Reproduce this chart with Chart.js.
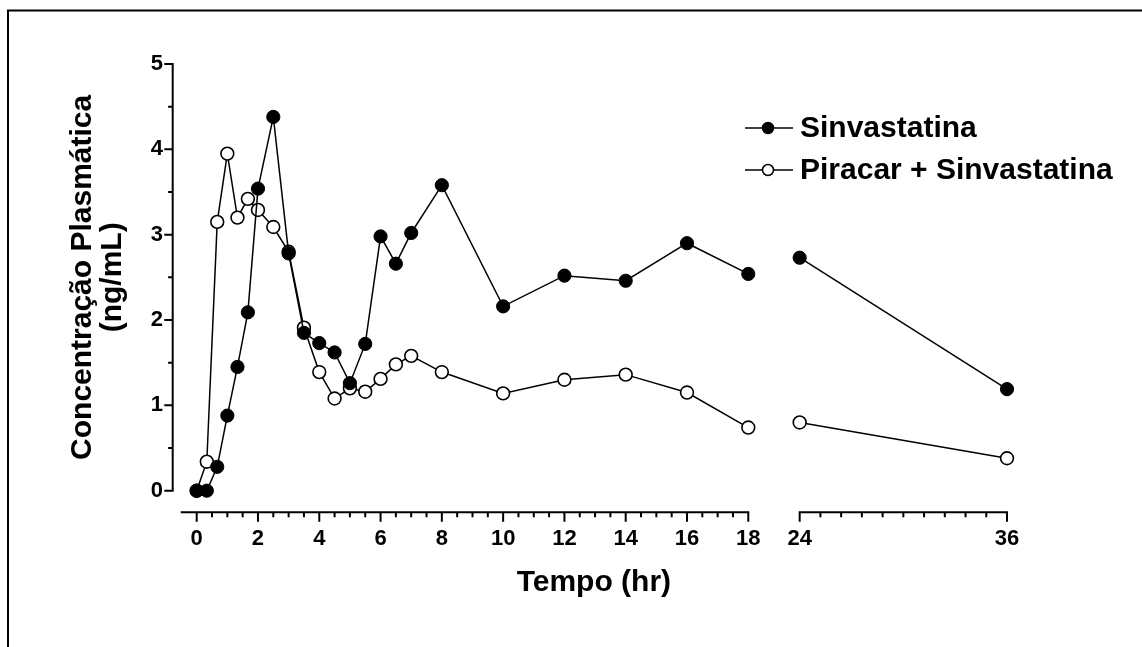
<!DOCTYPE html>
<html>
<head>
<meta charset="utf-8">
<title>Concentração Plasmática</title>
<script src="https://cdn.jsdelivr.net/npm/chart.js@4.4.1/dist/chart.umd.min.js"></script>
<style>
  html, body { margin: 0; padding: 0; background: #fff; }
  #wrap { width: 1142px; height: 647px; }
</style>
</head>
<body>
<div id="wrap"><canvas id="c" width="1142" height="647"></canvas></div>
<script>
// Sampling times (hr) and plasma concentrations (ng/mL)
const hours = [0, 0.33, 0.67, 1, 1.33, 1.67, 2, 2.5, 3, 3.5, 4, 4.5, 5, 5.5, 6, 6.5, 7, 8, 10, 12, 14, 16, 18, 24, 36];
const sinvastatina = [0, 0, 0.28, 0.88, 1.45, 2.09, 3.54, 4.38, 2.78, 1.85, 1.73, 1.62, 1.26, 1.72, 2.98, 2.66, 3.02, 3.58, 2.16, 2.52, 2.46, 2.90, 2.54, 2.73, 1.19];
const piracarSinvastatina = [0, 0.34, 3.15, 3.95, 3.20, 3.42, 3.29, 3.09, 2.80, 1.91, 1.39, 1.08, 1.20, 1.16, 1.31, 1.48, 1.58, 1.39, 1.14, 1.30, 1.36, 1.15, 0.74, 0.80, 0.38];
const seriesNames = ['Sinvastatina', 'Piracar + Sinvastatina'];
const xTickLabels = [0, 2, 4, 6, 8, 10, 12, 14, 16, 18, 24, 36];
const yTickLabels = [0, 1, 2, 3, 4, 5];

// Broken time axis: 0–18 h at full scale, then 24–36 h compressed after a gap
const BREAK_START = 18, BREAK_END = 24, LAST_HOUR = 36;
const BREAK_GAP = 1.677;
const LATE_SCALE = 0.5638;
function axisPos(t) {
  return t <= BREAK_START ? t : BREAK_START + BREAK_GAP + (t - BREAK_END) * LATE_SCALE;
}

const FONT = "'Liberation Sans', Arial, Helvetica, sans-serif";
Chart.defaults.font.family = FONT;
Chart.defaults.color = '#000';

const lineBreakSegment = {
  borderColor: ctx =>
    (hours[ctx.p0DataIndex] <= BREAK_START && hours[ctx.p1DataIndex] >= BREAK_END) ? 'rgba(0,0,0,0)' : undefined
};

// Page frame, offset axes with minor ticks, and the line-and-marker legend
const prismStyle = {
  id: 'prismStyle',
  beforeDraw(chart) {
    const ctx = chart.ctx;
    ctx.save();
    ctx.fillStyle = '#fff';
    ctx.fillRect(0, 0, chart.width, chart.height);
    ctx.strokeStyle = '#000';
    ctx.lineWidth = 2;
    ctx.beginPath();
    ctx.moveTo(8, chart.height);
    ctx.lineTo(8, 10.5);
    ctx.lineTo(chart.width, 10.5);
    ctx.stroke();
    ctx.restore();
  },
  afterDraw(chart) {
    const ctx = chart.ctx;
    const xs = chart.scales.x, ys = chart.scales.y;
    const area = chart.chartArea;
    const axisX = area.left - 8;
    const axisY = area.bottom + 21.6;
    ctx.save();
    ctx.strokeStyle = '#000';
    ctx.lineWidth = 2;
    ctx.lineCap = 'butt';

    // y axis
    const y0 = ys.getPixelForValue(yTickLabels[0]);
    const y1 = ys.getPixelForValue(yTickLabels[yTickLabels.length - 1]);
    ctx.beginPath();
    ctx.moveTo(axisX, y0 + 1);
    ctx.lineTo(axisX, y1 - 1);
    for (let v = yTickLabels[0]; v <= yTickLabels[yTickLabels.length - 1] + 1e-9; v += 0.5) {
      const py = ys.getPixelForValue(v);
      const major = Math.abs(v - Math.round(v)) < 1e-9;
      ctx.moveTo(axisX - (major ? 8.4 : 4.6), py);
      ctx.lineTo(axisX + 1, py);
    }
    ctx.stroke();

    // x axis, first segment 0–18 h
    ctx.beginPath();
    ctx.moveTo(area.left, axisY);
    ctx.lineTo(xs.getPixelForValue(axisPos(BREAK_START)) + 1, axisY);
    for (let t = 0; t <= BREAK_START + 1e-9; t += 0.5) {
      const px = xs.getPixelForValue(axisPos(t));
      const major = Math.abs(t / 2 - Math.round(t / 2)) < 1e-9;
      ctx.moveTo(px, axisY - 1);
      ctx.lineTo(px, axisY + (major ? 9.4 : 5));
    }
    ctx.stroke();

    // x axis, second segment 24–36 h
    ctx.beginPath();
    const a = xs.getPixelForValue(axisPos(BREAK_END));
    const b = xs.getPixelForValue(axisPos(LAST_HOUR));
    ctx.moveTo(a - 1, axisY);
    ctx.lineTo(b + 1, axisY);
    for (let k = 0; k <= 10; k++) {
      const t = BREAK_END + k * (LAST_HOUR - BREAK_END) / 10;
      const px = xs.getPixelForValue(axisPos(t));
      const major = (k === 0 || k === 10);
      ctx.moveTo(px, axisY - 1);
      ctx.lineTo(px, axisY + (major ? 9.4 : 5));
    }
    ctx.stroke();

    // legend
    ctx.font = 'bold 30px ' + FONT;
    ctx.textBaseline = 'middle';
    ctx.textAlign = 'left';
    ctx.fillStyle = '#000';
    const rows = [128, 170];
    chart.data.datasets.forEach((ds, i) => {
      const ry = rows[i];
      ctx.lineWidth = 1.5;
      ctx.beginPath();
      ctx.moveTo(745, ry);
      ctx.lineTo(793, ry);
      ctx.stroke();
      ctx.beginPath();
      ctx.arc(768, ry, 5.5, 0, Math.PI * 2);
      ctx.fillStyle = ds.pointBackgroundColor;
      ctx.fill();
      ctx.stroke();
      ctx.fillStyle = '#000';
      ctx.fillText(ds.label, 800, ry + 1);
    });
    ctx.restore();
  }
};

new Chart(document.getElementById('c'), {
  type: 'line',
  data: {
    datasets: [
      {
        label: seriesNames[0],
        data: hours.map((t, i) => ({ x: axisPos(t), y: sinvastatina[i] })),
        borderColor: '#000',
        borderWidth: 1.5,
        pointRadius: 6.6,
        pointBackgroundColor: '#000',
        pointBorderColor: '#000',
        pointBorderWidth: 1,
        segment: lineBreakSegment,
        clip: false,
        tension: 0
      },
      {
        label: seriesNames[1],
        data: hours.map((t, i) => ({ x: axisPos(t), y: piracarSinvastatina[i] })),
        borderColor: '#000',
        borderWidth: 1.5,
        pointRadius: 6.4,
        pointBackgroundColor: '#fff',
        pointBorderColor: '#000',
        pointBorderWidth: 1.6,
        segment: lineBreakSegment,
        clip: false,
        tension: 0
      }
    ]
  },
  options: {
    responsive: false,
    animation: false,
    devicePixelRatio: 1,
    layout: { padding: { left: 68, top: 64, right: 135, bottom: 49 } },
    plugins: { legend: { display: false }, tooltip: { enabled: false } },
    scales: {
      x: {
        type: 'linear',
        min: -0.522,
        max: axisPos(LAST_HOUR),
        afterBuildTicks: s => { s.ticks = xTickLabels.map(t => ({ value: axisPos(t) })); },
        afterFit: s => { s.height = 107.3; },
        grid: { display: false, drawTicks: false },
        border: { display: false },
        ticks: {
          autoSkip: false,
          maxRotation: 0,
          padding: 35,
          font: { size: 22, weight: 'bold' },
          color: '#000',
          callback: (v, i) => String(xTickLabels[i])
        },
        title: {
          display: true,
          text: 'Tempo (hr)',
          color: '#000',
          padding: 0,
          font: { size: 30, weight: 'bold', lineHeight: 1 }
        }
      },
      y: {
        type: 'linear',
        min: 0,
        max: 5,
        afterBuildTicks: s => { s.ticks = yTickLabels.map(v => ({ value: v })); },
        afterFit: s => { s.width = 112.7; },
        grid: { display: false, drawTicks: false },
        border: { display: false },
        ticks: {
          padding: 17.7,
          font: { size: 22, weight: 'bold' },
          color: '#000',
          callback: (v, i) => String(yTickLabels[i])
        },
        title: {
          display: true,
          text: ['Concentração Plasmática', '(ng/mL)'],
          color: '#000',
          padding: 0,
          font: { size: 30, weight: 'bold', lineHeight: 1 }
        }
      }
    }
  },
  plugins: [prismStyle]
});
</script>
</body>
</html>
